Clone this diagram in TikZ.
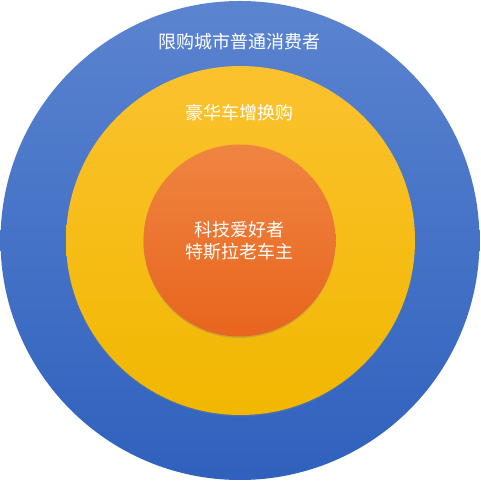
\documentclass[tikz,border=0pt]{standalone}
\usepackage{fontspec}
\setmainfont{Noto Sans CJK SC}
\usetikzlibrary{shadows}
\definecolor{bluetop}{HTML}{5B84D0}
\definecolor{bluebot}{HTML}{2F61BD}
\definecolor{yellowtop}{HTML}{FBC22F}
\definecolor{yellowbot}{HTML}{F1B700}
\definecolor{orangetop}{HTML}{EF8542}
\definecolor{orangebot}{HTML}{E8651D}

\begin{document}
\begin{tikzpicture}[x=1pt, y=1pt,
    ring/.style={circle, inner sep=0pt, outer sep=0pt},
    shade ring/.style={drop shadow={shadow xshift=0pt, shadow yshift=-1.5pt,
        opacity=0.35}},
    label text/.style={text=white, font=\fontsize{18}{22}\selectfont,
      align=center, inner sep=0pt}]
    \useasboundingbox (0,0) rectangle (480,481);
    \node (outer) [ring, minimum size=479pt, top color=bluetop,
      bottom color=bluebot] at (240,240.5) {};
    \node (middle) [ring, shade ring, minimum size=349pt, top color=yellowtop,
      bottom color=yellowbot] at (240.5,240.5) {};
    \node (inner) [ring, shade ring, minimum size=192pt, top color=orangetop,
      bottom color=orangebot] at (239.5,240.5) {};
    \node (cities) [label text] at (239,439) {限购城市普通消费者};
    \node (luxury) [label text] at (239,368) {豪华车增换购};
    \node (fans) [label text] at (inner) {科技爱好者\\特斯拉老车主};
  \end{tikzpicture}
\end{document}
